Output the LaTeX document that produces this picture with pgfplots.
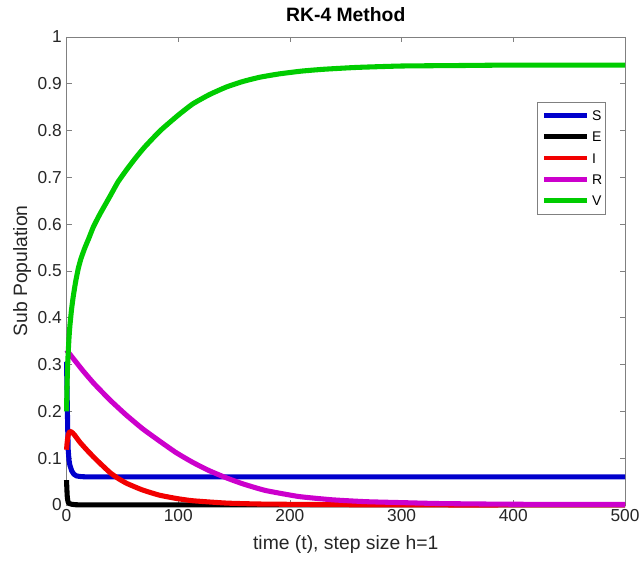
\documentclass[border=0pt]{standalone}
\usepackage{fontspec}
\setmainfont{Liberation Sans}
\usepackage{pgfplots}
\pgfplotsset{compat=1.18}
\definecolor{cS}{rgb}{0,0,0.8}
\definecolor{cE}{rgb}{0,0,0}
\definecolor{cI}{rgb}{0.95,0,0}
\definecolor{cR}{rgb}{0.8,0,0.8}
\definecolor{cV}{rgb}{0,0.8,0}
\definecolor{axgray}{rgb}{0.5,0.5,0.5}
\definecolor{txt}{rgb}{0.15,0.15,0.15}
\begin{document}
\begin{tikzpicture}
\useasboundingbox (-49.9pt,-42.75pt) rectangle (430.15pt,378.75pt);
\begin{axis}[
  at={(0,0)}, anchor=south west,
  scale only axis, width=418.9pt, height=351pt,
  xmin=0, xmax=500, ymin=0, ymax=1,
  xtick={0,100,200,300,400,500},
  ytick={0,0.1,0.2,0.3,0.4,0.5,0.6,0.7,0.8,0.9,1},
  tick align=inside, xtick pos=both, ytick pos=both,
  xticklabel pos=lower, yticklabel pos=left,
  major tick length=3.75pt,
  every tick/.style={draw=axgray, line width=0.5pt},
  axis line style={draw=axgray, line width=0.6pt},
  /pgf/number format/assume math mode=true,
  ticklabel style={font=\fontsize{13}{15}\selectfont, text=txt},
  title={RK-4 Method},
  title style={font=\bfseries\fontsize{14.5}{17}\selectfont, at={(axis description cs:0.5,1.016)}, anchor=base},
  xlabel={time (t), step size h=1},
  xlabel style={font=\fontsize{14.5}{17}\selectfont, text=txt, at={(axis description cs:0.5,-0.096)}, anchor=base},
  ylabel={Sub Population},
  ylabel style={font=\fontsize{14.5}{17}\selectfont, text=txt, at={(axis description cs:-0.0707,0.5)}, anchor=base},
  clip=false,
  legend style={at={(rel axis cs:0.842,0.862)}, anchor=north west, draw=axgray, line width=0.6pt, fill=white,
    font=\fontsize{10.5}{12}\selectfont, inner xsep=3.75pt, inner ysep=6.3pt,
    nodes={inner sep=0pt, text height=7.5pt, text depth=0pt}, row sep=8.5pt, column sep=2.25pt},
  legend cell align=left,
  legend image code/.code={\draw[#1, line width=3.5pt, line cap=butt] (0pt,0pt) -- (31.7pt,0pt);},
  every axis plot/.append style={line width=3.8pt, line join=round},
]
\addplot[cS] coordinates {(0,0.306) (0.5,0.24) (1,0.17) (1.5,0.118) (2.2,0.096) (3,0.085) (4.6,0.073) (6.5,0.066) (9,0.062) (13,0.0605) (18,0.06) (100,0.06) (300,0.06) (500,0.06)};
\addlegendentry{\makebox[6.3pt][l]{S}}
\addplot[cE] coordinates {(0,0.053) (0.3,0.035) (0.6,0.02) (1,0.011) (1.5,0.006) (2.5,0.003) (4.6,0.0015) (8,0.0005) (15,0) (100,0) (500,0)};
\addlegendentry{\makebox[6.3pt][l]{E}}
\addplot[cI, smooth, tension=0.3] coordinates {(0,0.118) (0.5,0.132) (1,0.142) (1.5,0.149) (2.2,0.154) (3.1,0.157) (4.5,0.156) (7,0.15) (12,0.134) (18,0.118) (24,0.103) (30,0.089) (39,0.069) (46,0.057) (54,0.046) (68,0.032) (83,0.021) (98,0.014) (113,0.009) (143,0.004) (173,0.002) (220,0.001) (300,0) (500,0)};
\addlegendentry{\makebox[6.3pt][l]{I}}
\addplot[cR, smooth, tension=0.3] coordinates {(0,0.331) (4,0.319) (9,0.304) (15,0.286) (24,0.261) (30,0.246) (39,0.224) (48,0.204) (54,0.191) (68,0.163) (83,0.137) (98,0.112) (113,0.091) (128,0.073) (143,0.058) (158,0.045) (178,0.031) (208,0.018) (238,0.011) (268,0.007) (300,0.005) (334,0.003) (400,0.0015) (500,0.001)};
\addlegendentry{\makebox[6.3pt][l]{R}}
\addplot[cV, smooth, tension=0.3] coordinates {(0,0.2) (0.5,0.26) (1,0.3) (1.6,0.33) (2.3,0.36) (3.1,0.385) (4.5,0.418) (6,0.445) (8,0.475) (10.5,0.505) (13,0.527) (16.5,0.55) (20,0.57) (24,0.594) (30,0.622) (39,0.66) (46,0.69) (54,0.717) (62,0.742) (70,0.765) (84,0.8) (100,0.833) (113,0.857) (128,0.877) (143,0.893) (158,0.905) (173,0.914) (190,0.921) (210,0.927) (230,0.931) (260,0.935) (300,0.938) (350,0.939) (400,0.94) (500,0.94)};
\addlegendentry{\makebox[6.3pt][l]{V}}
\end{axis}
\end{tikzpicture}
\end{document}
